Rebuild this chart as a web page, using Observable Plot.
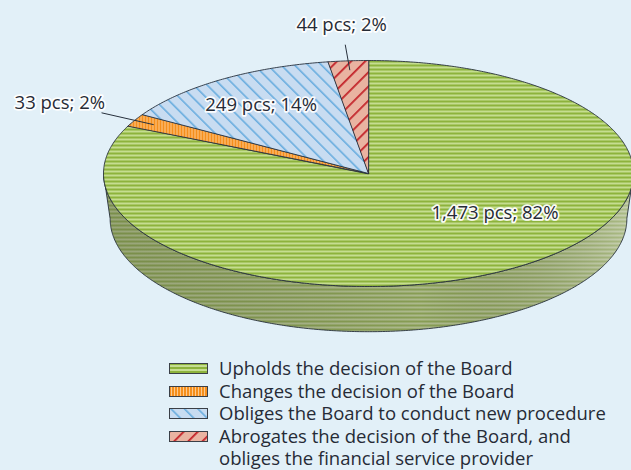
<!DOCTYPE html>
<html><head><meta charset="utf-8">
<script src="https://cdn.jsdelivr.net/npm/d3@7"></script>
<script src="https://cdn.jsdelivr.net/npm/@observablehq/plot@0.6"></script>
<style>
html,body{margin:0;padding:0;background:#e2f0f8;}
#wrap{position:relative;width:631px;height:470px;overflow:hidden;background:#e2f0f8;font-family:"Open Sans",sans-serif;color:#262b36;}
#wrap svg.plot{position:absolute;left:0;top:0;overflow:visible;}
#legend{position:absolute;left:169px;top:357px;font-size:18.5px;line-height:22.6px;width:460px;}
.row{position:relative;padding-left:50px;width:396px;}
.sw{position:absolute;left:0;top:6px;}
</style></head><body><div id="wrap"></div>
<script>
// ---- data ----
const categories = [
  "Upholds the decision of the Board",
  "Changes the decision of the Board",
  "Obliges the Board to conduct new procedure",
  "Abrogates the decision of the Board, and obliges the financial service provider"
];
const counts = [1473, 33, 249, 44];
const percents = [82, 2, 14, 2];
const labelTexts = counts.map((c, i) => `${d3.format(",")(c)} pcs; ${percents[i]}%`);

// ---- styles / layout ----
const outline = "#27303c";
const textColor = "#262b36";
const FONT = "Open Sans";
const labelPlacement = [
  {angle: 126, r: 0.59, leader: false},
  {r: 1.32, leader: true},
  {r: 0.73, leader: false},
  {r: 1.32, leader: true}
];
const DEPTH = 0.4, BOTTOM_SX = 0.975;

const defs = `
<pattern id="pat0" patternUnits="userSpaceOnUse" width="4" height="4">
  <rect width="4" height="4" fill="#c5dd90"/><rect width="4" height="2" fill="#8db33c"/></pattern>
<pattern id="side0" patternUnits="userSpaceOnUse" width="4" height="4">
  <rect width="4" height="4" fill="#b2bf90"/><rect width="4" height="2" fill="#8ca257"/></pattern>
<pattern id="pat1" patternUnits="userSpaceOnUse" width="3" height="3">
  <rect width="3" height="3" fill="#fcc98e"/><rect width="2" height="3" fill="#f58f1c"/></pattern>
<pattern id="pat2" patternUnits="userSpaceOnUse" width="9.5" height="9.5" patternTransform="rotate(-45)">
  <rect width="9.5" height="9.5" fill="#c8dcf1"/><rect width="1.6" height="9.5" fill="#6aaddf"/></pattern>
<pattern id="pat3" patternUnits="userSpaceOnUse" width="10" height="10" patternTransform="rotate(45)">
  <rect width="10" height="10" fill="#e9b3a1"/><rect width="1.8" height="10" fill="#c4262c"/></pattern>
<linearGradient id="shade" x1="0" x2="1" y1="0" y2="0">
  <stop offset="0" stop-color="#33401a" stop-opacity="0.2"/>
  <stop offset="0.6" stop-color="#000" stop-opacity="0.03"/>
  <stop offset="1" stop-color="#fff" stop-opacity="0.3"/>
</linearGradient>`;

// ---- geometry from data ----
const total = d3.sum(counts);
const cum = d3.cumsum(counts);
const slices = counts.map((c, i) => ({i, a0: (cum[i] - c) / total * 2 * Math.PI, a1: cum[i] / total * 2 * Math.PI}));
const pt = (a, r = 1) => ({x: r * Math.sin(a), y: -r * Math.cos(a)});
function arc(a0, a1, f) {
  const n = Math.max(2, Math.ceil(Math.abs(a1 - a0) / 0.01));
  return d3.range(n + 1).map(k => f(a0 + (a1 - a0) * k / n));
}
const topPolys = slices.map(s => [{x: 0, y: 0}, ...arc(s.a0, s.a1, a => pt(a))]);
const sidePolys = slices.map(s => {
  const lo = Math.max(s.a0, Math.PI / 2), hi = Math.min(s.a1, 3 * Math.PI / 2);
  if (hi <= lo) return null;
  return [...arc(lo, hi, a => pt(a)), ...arc(hi, lo, a => ({x: BOTTOM_SX * Math.sin(a), y: -Math.cos(a) + DEPTH}))];
});
const labels = slices.map(s => {
  const p = labelPlacement[s.i];
  const mid = (s.a0 + s.a1) / 2;
  const a = p.angle != null ? p.angle * Math.PI / 180 : mid;
  const q = pt(a, p.r);
  return {x: q.x, y: q.y, text: labelTexts[s.i]};
});
const leaders = slices.filter(s => labelPlacement[s.i].leader).flatMap(s => {
  const mid = (s.a0 + s.a1) / 2;
  return [{...pt(mid, 0.92), i: s.i}, {...pt(mid, 1.14), i: s.i}];
});

const marks = [];
sidePolys.forEach((poly, i) => {
  if (!poly) return;
  marks.push(Plot.line(poly, {x: "x", y: "y", fill: `url(#side${i})`, stroke: "none", curve: "linear-closed"}));
  marks.push(Plot.line(poly, {x: "x", y: "y", fill: "url(#shade)", stroke: outline, strokeWidth: 0.9, curve: "linear-closed"}));
});
topPolys.forEach((poly, i) => {
  marks.push(Plot.line(poly, {x: "x", y: "y", fill: `url(#pat${i})`, stroke: outline, strokeWidth: 0.9, curve: "linear-closed"}));
});
marks.push(Plot.line(leaders, {x: "x", y: "y", z: "i", stroke: outline, strokeWidth: 1}));
marks.push(Plot.text(labels, {x: "x", y: "y", text: "text", fontSize: 18.5, fontFamily: FONT, fill: textColor,
  stroke: "white", strokeWidth: 3.5, strokeOpacity: 0.95}));

const chart = Plot.plot({
  width: 631, height: 352, margin: 0,
  x: {domain: [-1, 1], range: [103, 633], axis: null},
  y: {domain: [-1, 1], range: [60, 286], axis: null},
  style: {background: "transparent", overflow: "visible"},
  marks
});
d3.select(chart).insert("defs", ":first-child").html(defs);
const wrap = document.getElementById("wrap");
wrap.appendChild(chart);

const legend = document.createElement("div");
legend.id = "legend";
legend.innerHTML = categories.map((c, i) =>
  `<div class="row"><svg class="sw" width="39" height="11"><rect x="0.5" y="0.5" width="38" height="10" fill="url(#pat${i})" stroke="#3a3f47" stroke-width="1"/></svg>${c}</div>`
).join("");
wrap.appendChild(legend);
</script></body></html>
